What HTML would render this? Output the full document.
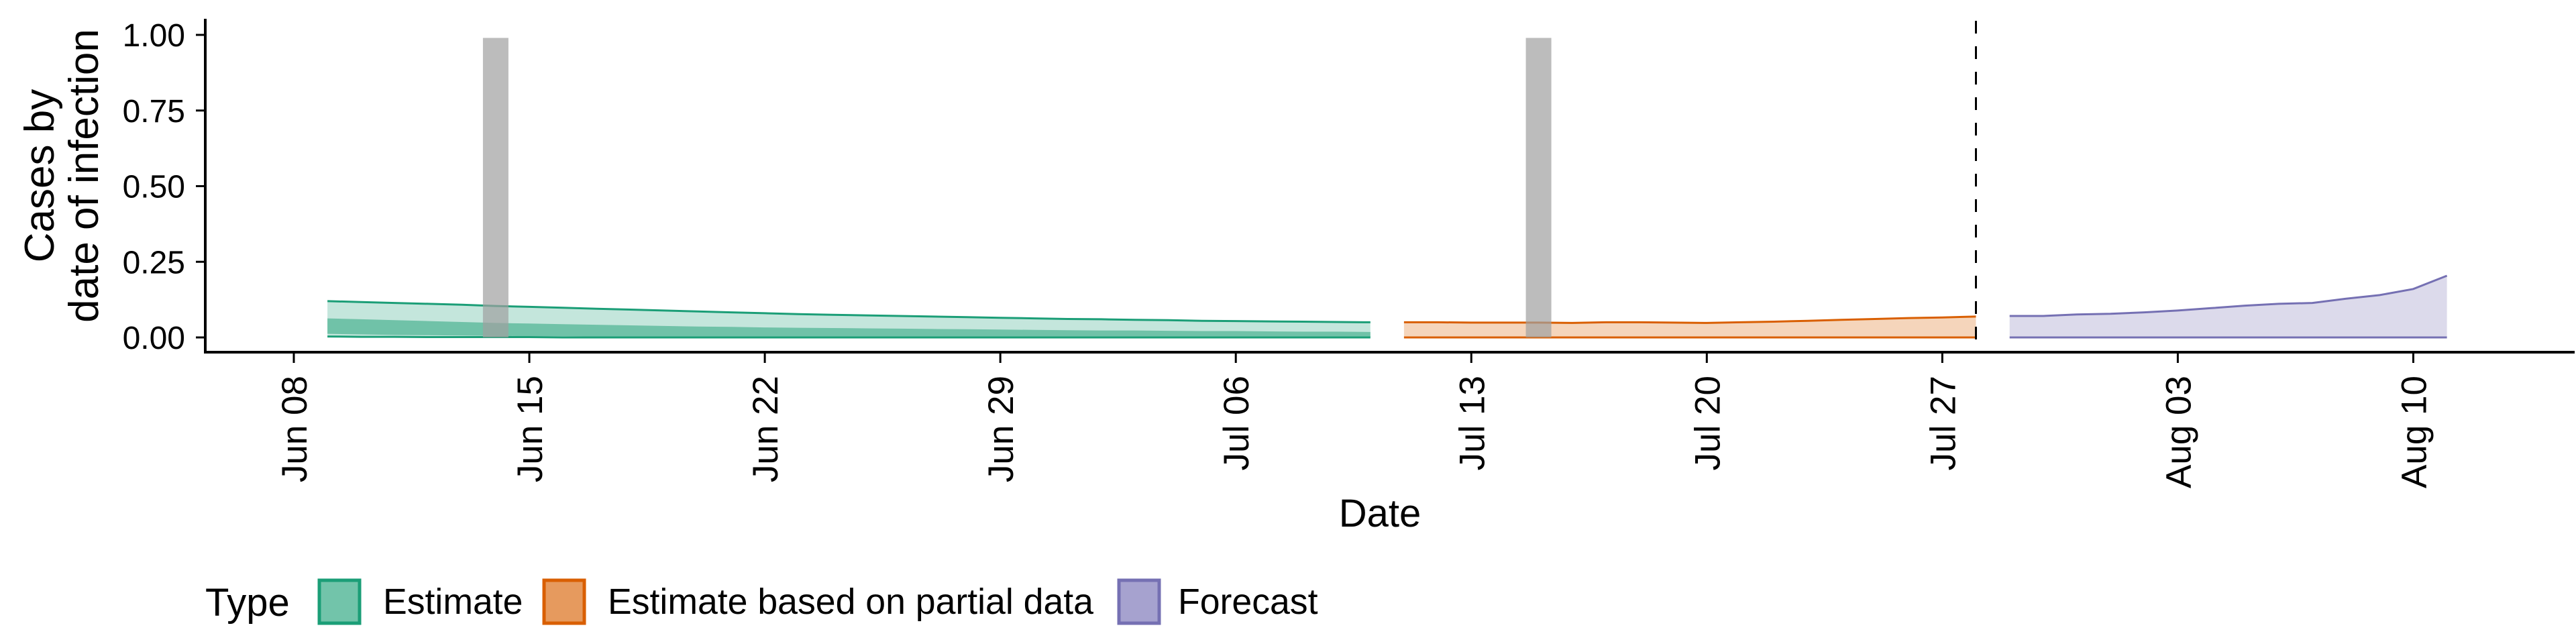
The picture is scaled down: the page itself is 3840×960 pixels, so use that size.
<!DOCTYPE html>
<html><head><meta charset="utf-8"><style>
html,body{margin:0;padding:0;background:#fff;}
svg{display:block;font-family:"Liberation Sans",sans-serif;}
</style></head><body>
<svg id="chart" width="3840" height="960" viewBox="0 0 3840 960">
<g id="marks"></g>
<g id="axes"></g>
<g id="legend"></g>
</svg>
<script>
// data (day index: 0 = Jun 08)
const tickDays = [0,7,14,21,28,35,42,49,56,63];
const tickLabels = ["Jun 08","Jun 15","Jun 22","Jun 29","Jul 06","Jul 13","Jul 20","Jul 27","Aug 03","Aug 10"];
const yTicks = [0,0.25,0.5,0.75,1];
const yTickLabels = ["0.00","0.25","0.50","0.75","1.00"];
const estStart = 1;
const estUpper = [0.120,0.117,0.114,0.111,0.108,0.104,0.101,0.098,0.095,0.092,0.089,0.086,0.083,0.080,0.077,0.075,0.073,0.071,0.069,0.067,0.065,0.063,0.061,0.060,0.058,0.057,0.055,0.054,0.053,0.052,0.051,0.050];
const estInnerUp = [0.063,0.060,0.057,0.054,0.051,0.048,0.046,0.044,0.042,0.040,0.038,0.036,0.035,0.033,0.032,0.031,0.030,0.029,0.028,0.027,0.026,0.025,0.024,0.023,0.023,0.022,0.021,0.021,0.020,0.019,0.019,0.018];
const estInnerLow = [0.012,0.010,0.008,0.007,0.006,0.005,0.004,0.004,0.003,0.003,0.002,0.002,0.002,0.002,0.001,0.001,0.001,0.001,0.001,0.001,0.001,0.001,0.000,0.000,0.000,0.000,0.000,0.000,0.000,0.000,0.000,0.000];
const estLower = [0.003,0.002,0.002,0.001,0.001,0.001,0.001,0,0,0,0,0,0,0,0,0,0,0,0,0,0,0,0,0,0,0,0,0,0,0,0,0];
const partStart = 33;
const partUpper = [0.050,0.050,0.049,0.049,0.049,0.048,0.050,0.050,0.049,0.048,0.050,0.052,0.055,0.058,0.061,0.064,0.066,0.069];
const partLower = [0,0,0,0,0,0,0,0,0,0,0,0,0,0,0,0,0,0];
const fcStart = 51;
const fcUpper = [0.071,0.071,0.076,0.078,0.083,0.089,0.097,0.105,0.111,0.114,0.128,0.140,0.160,0.204];
const fcLower = [0,0,0,0,0,0,0,0,0,0,0,0,0,0];
const barDays = [6,37];
const barValues = [0.99,0.99];
const forecastLineDay = 50;

const NS="http://www.w3.org/2000/svg";
const X0=438, PXD=50.15, Y0=503, PXV=451;
const x=d=>X0+PXD*d;
const y=v=>Y0-PXV*v;
function mk(tag,attrs,parent){const e=document.createElementNS(NS,tag);for(const k in attrs)e.setAttribute(k,attrs[k]);parent.appendChild(e);return e;}
const marks=document.getElementById('marks'), axes=document.getElementById('axes'), legend=document.getElementById('legend');

function band(start,up,low,fill){
  let p=up.map((v,i)=>`${i?'L':'M'}${x(start+i).toFixed(1)},${y(v).toFixed(1)}`).join(' ');
  for(let i=low.length-1;i>=0;i--)p+=` L${x(start+i).toFixed(1)},${y(low[i]).toFixed(1)}`;
  return mk('path',{d:p+' Z',fill:fill},marks);
}
function line(start,vals,stroke){
  return mk('path',{d:vals.map((v,i)=>`${i?'L':'M'}${x(start+i).toFixed(1)},${y(v).toFixed(1)}`).join(' '),fill:'none',stroke:stroke,'stroke-width':3},marks);
}
let e;
e=band(estStart,estUpper,estLower,'#c4e6dc');


e=band(estStart,estInnerUp,estInnerLow,'#70c2a8');


e=line(estStart,estUpper,'#1b9e77');


e=line(estStart,estLower,'#1b9e77');


e=band(partStart,partUpper,partLower,'#f5d5bb');


e=line(partStart,partUpper,'#d95f02');


e=line(partStart,partLower,'#d95f02');


e=band(fcStart,fcUpper,fcLower,'#dcdaeb');


e=line(fcStart,fcUpper,'#7570b3');


e=line(fcStart,fcLower,'#7570b3');


barDays.forEach((d,i)=>{
  const b=mk('rect',{x:x(d)-19,y:y(barValues[i]),width:38,height:y(0)-y(barValues[i]),fill:'#a0a0a0','fill-opacity':0.7},marks);
  
  
});
e=mk('line',{x1:x(forecastLineDay),x2:x(forecastLineDay),y1:31,y2:525,stroke:'#000','stroke-width':3,'stroke-dasharray':'19 19'},marks);



// axes
e=mk('line',{x1:306,x2:306,y1:28,y2:527,stroke:'#000','stroke-width':4},axes);


e=mk('line',{x1:304,x2:3838,y1:525,y2:525,stroke:'#000','stroke-width':4},axes);


yTicks.forEach((v,i)=>{
  const t=mk('line',{x1:292,x2:306,y1:y(v),y2:y(v),stroke:'#000','stroke-width':3},axes);
  
  
  const l=mk('text',{x:276,y:y(v)+17,'text-anchor':'end','font-size':48,fill:'#000'},axes);
  l.textContent=yTickLabels[i];
  
  
});
tickDays.forEach((d,i)=>{
  const t=mk('line',{x1:x(d),x2:x(d),y1:525,y2:541,stroke:'#000','stroke-width':3},axes);
  
  
  const l=mk('text',{x:0,y:0,'text-anchor':'end','font-size':53,fill:'#000',transform:`translate(${x(d)+19},560) rotate(-90)`},axes);
  l.textContent=tickLabels[i];
  
  
});
e=mk('text',{x:0,y:0,'text-anchor':'middle','font-size':62,fill:'#000',transform:'translate(80,262) rotate(-90)'},axes);
e.textContent='Cases by';


e=mk('text',{x:0,y:0,'text-anchor':'middle','font-size':62,fill:'#000',transform:'translate(146,262) rotate(-90)'},axes);
e.textContent='date of infection';


e=mk('text',{x:2057,y:785,'text-anchor':'middle','font-size':58,fill:'#000'},axes);
e.textContent='Date';



// legend
e=mk('text',{x:306,y:918,'font-size':58,fill:'#000'},legend);
e.textContent='Type';


const legItems=[["Estimate",476,'#72c4aa','#1b9e77',571,'legend-entry-estimate'],["Estimate based on partial data",811,'#e69a5e','#d95f02',906,'legend-entry-partial'],["Forecast",1668,'#a6a2cf','#7570b3',1756,'legend-entry-forecast']];
legItems.forEach(it=>{
  const g=mk('g',{},legend);
  
  
  mk('rect',{x:it[1],y:865,width:60,height:64,fill:it[2],stroke:it[3],'stroke-width':5},g);
  const t=mk('text',{x:it[4],y:915,'font-size':53.6,fill:'#000'},g);
  t.textContent=it[0];
});
</script>
</body></html>
